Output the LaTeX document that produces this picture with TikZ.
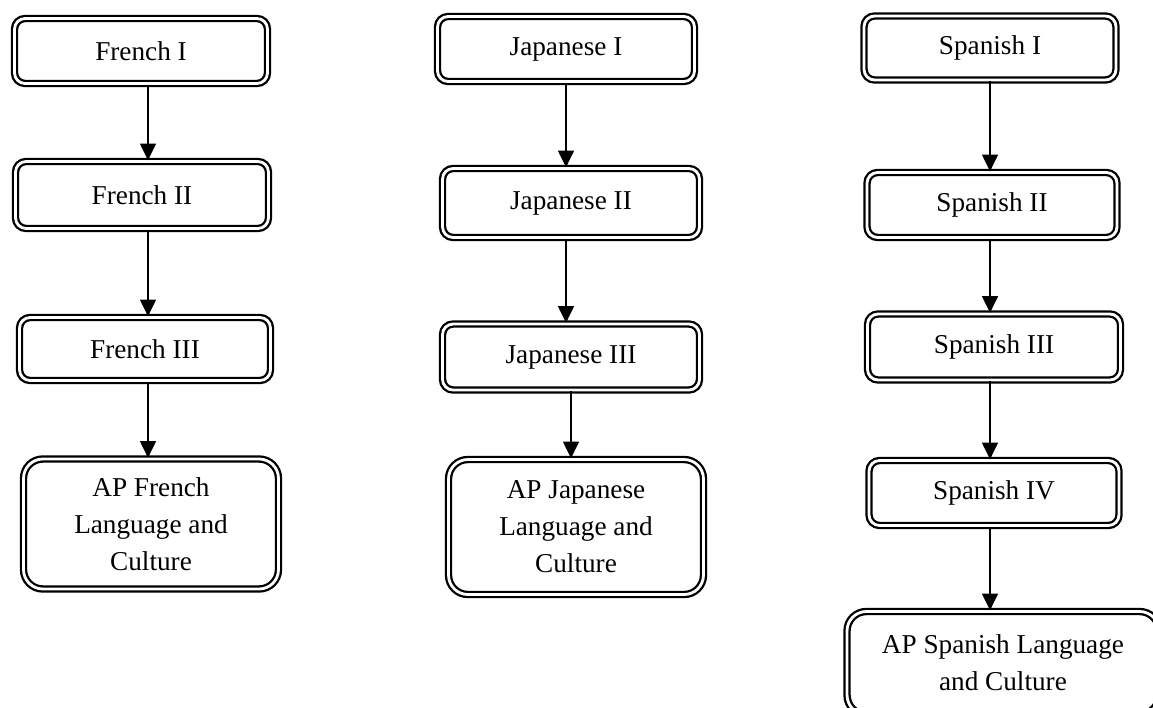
\documentclass[tikz,border=0pt]{standalone}
\usepackage{fontspec}
\setmainfont{Liberation Serif}
\usetikzlibrary{arrows.meta}
\begin{document}
\begin{tikzpicture}[x=0.02cm,y=-0.02cm,
    course/.style={draw,double,line width=1.3pt,double distance=1.6pt,rounded corners=6pt,
        minimum width=5.06cm,minimum height=1.30cm,align=center,
        font=\fontsize{15.5}{21}\selectfont},
    apcourse/.style={course,rounded corners=11pt,minimum height=2.60cm},
    link/.style={-{Triangle[length=9.5pt,width=9pt]},line width=1pt}]
            \useasboundingbox (0,0) rectangle (1153,707);
            % French
            \node[course] (f1) at (141,51) {French I};
            \node[course,minimum height=1.34cm] (f2) at (142,195) {French II};
            \node[course,minimum width=5.02cm,minimum height=1.26cm] (f3) at (145,349) {French III};
            \node[apcourse,minimum width=5.1cm] (fap) at (151,524) {AP French\\Language and\\Culture};
            % Japanese
            \node[course,minimum width=5.14cm] (j1) at (566,49) {Japanese I};
            \node[course,minimum width=5.14cm,minimum height=1.38cm] (j2) at (571,203) {Japanese II};
            \node[course,minimum width=5.14cm,minimum height=1.32cm] (j3) at (571,357) {Japanese III};
            \node[apcourse,minimum width=5.1cm,minimum height=2.70cm] (jap) at (576,527) {AP Japanese\\Language and\\Culture};
            % Spanish
            \node[course,minimum width=5.04cm,minimum height=1.28cm] (s1) at (990,48) {Spanish I};
            \node[course,minimum width=5.0cm] (s2) at (992,205) {Spanish II};
            \node[course,minimum height=1.32cm] (s3) at (994,347) {Spanish III};
            \node[course,minimum width=5.0cm] (s4) at (994,493) {Spanish IV};
            \node[apcourse,minimum width=6.24cm,minimum height=2.06cm] (sap) at (1003,663) {AP Spanish Language\\and Culture};
            % arrows
            \draw[link] ([xshift=0.14cm]f1.south) -- ([xshift=0.14cm]f1.south |- f2.north);
            \draw[link] ([xshift=0.12cm]f2.south) -- ([xshift=0.12cm]f2.south |- f3.north);
            \draw[link] ([xshift=0.06cm]f3.south) -- ([xshift=0.06cm]f3.south |- fap.north);
            \draw[link] (j1.south) -- (j1.south |- j2.north);
            \draw[link] ([xshift=-0.1cm]j2.south) -- ([xshift=-0.1cm]j2.south |- j3.north);
            \draw[link] (j3.south) -- (j3.south |- jap.north);
            \draw[link] (s1.south) -- (s1.south |- s2.north);
            \draw[link] ([xshift=-0.04cm]s2.south) -- ([xshift=-0.04cm]s2.south |- s3.north);
            \draw[link] ([xshift=-0.08cm]s3.south) -- ([xshift=-0.08cm]s3.south |- s4.north);
            \draw[link] ([xshift=-0.08cm]s4.south) -- ([xshift=-0.08cm]s4.south |- sap.north);
\end{tikzpicture}
\end{document}
